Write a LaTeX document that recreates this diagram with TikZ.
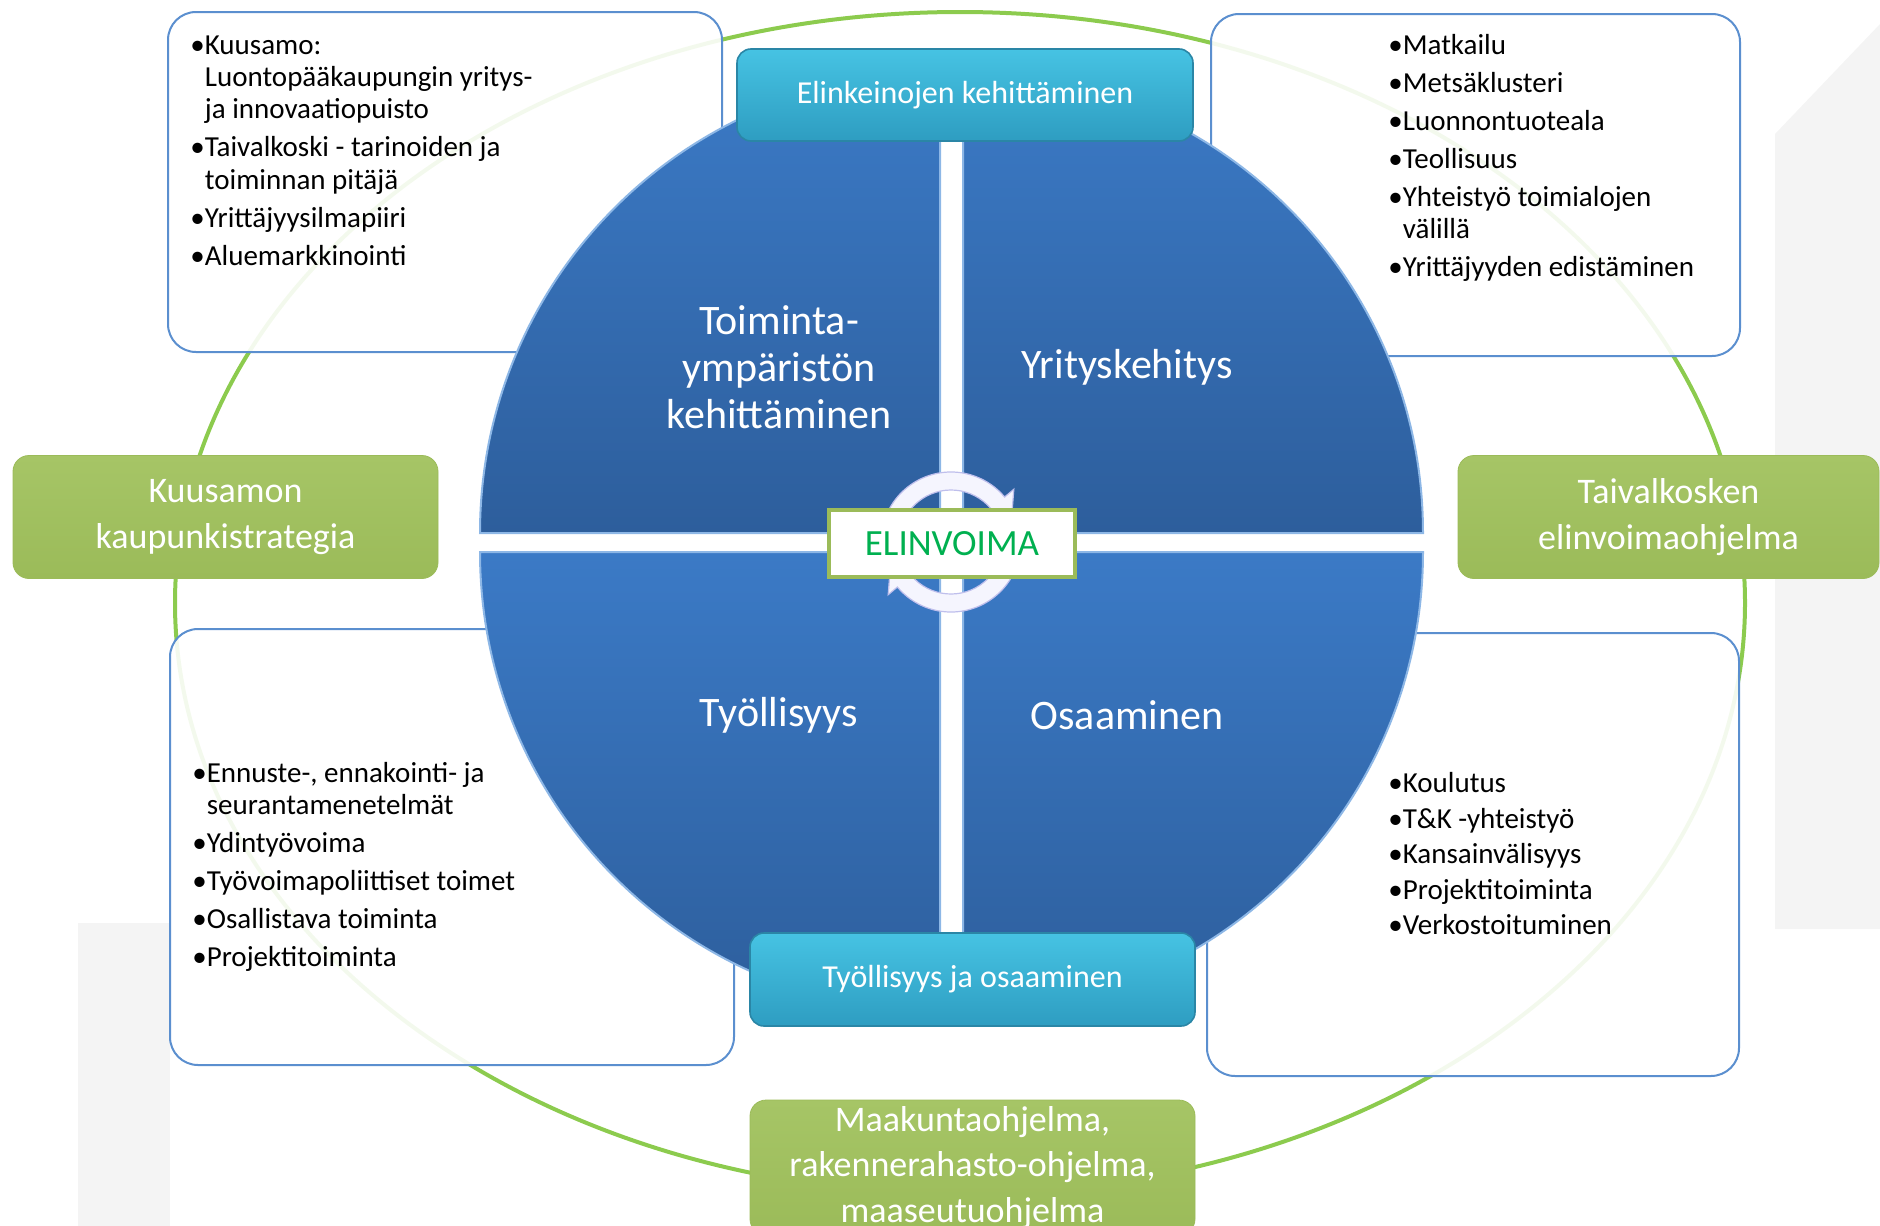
\documentclass[tikz,border=0pt]{standalone}
\usepackage{fontspec}
\setmainfont{Carlito}
\usetikzlibrary{shapes,arrows}
\definecolor{ringgreen}{HTML}{8CCB4E}
\definecolor{boxblue}{HTML}{5B8FCF}
\definecolor{leafgreen}{HTML}{9BBB59}
\definecolor{leafgreenlt}{HTML}{A6C566}
\definecolor{tealtop}{HTML}{46C3E3}
\definecolor{tealbot}{HTML}{2E9DC1}
\definecolor{tealedge}{HTML}{2A86A6}
\definecolor{quadtop}{HTML}{3B7AC6}
\definecolor{quadbot}{HTML}{2D5E9C}
\definecolor{quadedge}{HTML}{8DB7E6}
\definecolor{vitalgreen}{HTML}{00B050}
\definecolor{watermark}{HTML}{F4F4F4}
\tikzset{%
    notebox/.style = {draw=boxblue, line width=1pt, rectangle, rounded corners=14pt, fill=white, fill opacity=0.9, inner sep=0pt},
    planbox/.style = {draw=leafgreen, rectangle, rounded corners=8pt, top color=leafgreenlt, bottom color=leafgreen, text=white, align=center, font=\fontsize{18}{22.6}\selectfont},
    themebox/.style = {draw=tealedge, line width=0.8pt, rectangle, rounded corners=7pt, top color=tealtop, bottom color=tealbot, text=white, font=\fontsize{16}{19}\selectfont},
    listtext/.style = {align=left, inner sep=0pt, text=black, font=\fontsize{14.5}{16.2}\selectfont},
    quadlabel/.style = {align=center, text=white, font=\fontsize{21}{23.5}\selectfont},
    quadrant/.style = {top color=quadtop, bottom color=quadbot, draw=quadedge, line width=1pt},
    ringline/.style = {draw=ringgreen, line width=2pt},
    cyclearrow/.style = {fill=black!8!blue!4!white, draw=black!30!blue!25!white, line width=0.6pt},
}

\begin{document}
\begin{tikzpicture}[x=0.5pt, y=-0.5pt]
        \useasboundingbox (0,0) rectangle (1880,1226);
        % faint logo behind everything
        \fill[watermark] (1775,134) -- (1880,24) -- (1880,929) -- (1775,929) -- cycle;
        \fill[watermark] (78,923) rectangle (170,1226);

        \draw[ringline] (960,603) ellipse [x radius=785, y radius=591];

        \draw
            node at (445,182) [notebox, minimum width=277pt, minimum height=170pt] (kehbox) {}
            node at (1475.5,185) [notebox, minimum width=264.5pt, minimum height=171pt] (yritbox) {}
            node at (452,847) [notebox, minimum width=282pt, minimum height=218pt] (tyobox) {}
            node at (1473,854.5) [notebox, minimum width=266pt, minimum height=221.5pt] (osabox) {};

        % the four quarters of the disc
        \shade[quadrant] (940,533) -- ++(-460,0) arc[start angle=180, end angle=270, radius=460] -- cycle;
        \shade[quadrant] (963,533) -- ++(0,-460) arc[start angle=270, end angle=360, radius=460] -- cycle;
        \shade[quadrant] (963,552) -- ++(460,0) arc[start angle=0, end angle=90, radius=460] -- cycle;
        \shade[quadrant] (940,552) -- ++(0,460) arc[start angle=90, end angle=180, radius=460] -- cycle;

        \node[quadlabel] (toiminta) at (779,367) {Toiminta-\\ympäristön\\kehittäminen};
        \node[quadlabel] (yritys) at (1127,367) {Yrityskehitys};
        \node[quadlabel] (tyollisyys) at (779,715) {Työllisyys};
        \node[quadlabel] (osaaminen) at (1127,715) {Osaaminen};

        \begin{scope}[shift={(951,542)}]
            \filldraw[cyclearrow] (200:70) arc[start angle=200, end angle=320, radius=70]
                -- (320:82) -- (348:61) -- (320:40) -- (320:52)
                arc[start angle=320, end angle=200, radius=52] -- cycle;
            \filldraw[cyclearrow] (20:70) arc[start angle=20, end angle=140, radius=70]
                -- (140:82) -- (168:61) -- (140:40) -- (140:52)
                arc[start angle=140, end angle=20, radius=52] -- cycle;
        \end{scope}

        \draw
            node at (965,95) [themebox, minimum width=228pt, minimum height=46pt] (elinkeino)
            {Elinkeinojen kehittäminen}
            node at (972.5,979.5) [themebox, minimum width=222.5pt, minimum height=46.5pt] (tyoosa)
            {Työllisyys ja osaaminen}
            node at (225.5,517) [planbox, minimum width=212.5pt, minimum height=61.5pt] (kuusamo)
            {Kuusamon\\kaupunkistrategia}
            node at (1668.5,517) [planbox, minimum width=210.5pt, minimum height=61.5pt] (taivalkoski)
            {Taivalkosken\\elinvoimaohjelma}
            node at (972.5,1167.5) [planbox, minimum width=222.5pt, minimum height=64.5pt] (maakunta)
            {Maakuntaohjelma,\\rakennerahasto-ohjelma,\\maaseutuohjelma}
            node at (952,543.5) [draw=leafgreen, line width=1.8pt, fill=white, minimum width=123pt, minimum height=33.5pt,
                text=vitalgreen, font=\fontsize{18.5}{20}\selectfont] (elinvoima)
            {ELINVOIMA};

        \node[listtext, anchor=north west] (kehlist) at (190,35)
            {\textbullet Kuusamo:\\
             \hspace*{.5em}Luontopääkaupungin yritys-\\
             \hspace*{.5em}ja innovaatiopuisto\\[2.8pt]
             \textbullet Taivalkoski - tarinoiden ja\\
             \hspace*{.5em}toiminnan pitäjä\\[2.8pt]
             \textbullet Yrittäjyysilmapiiri\\[2.8pt]
             \textbullet Aluemarkkinointi};
        \node[listtext, anchor=north west] (yritlist) at (1388,34)
            {\textbullet Matkailu\\[2.8pt]
             \textbullet Metsäklusteri\\[2.8pt]
             \textbullet Luonnontuoteala\\[2.8pt]
             \textbullet Teollisuus\\[2.8pt]
             \textbullet Yhteistyö toimialojen\\
             \hspace*{.5em}välillä\\[2.8pt]
             \textbullet Yrittäjyyden edistäminen};
        \node[listtext, anchor=north west] (tyolist) at (192,762)
            {\textbullet Ennuste-, ennakointi- ja\\
             \hspace*{.5em}seurantamenetelmät\\[2.8pt]
             \textbullet Ydintyövoima\\[2.8pt]
             \textbullet Työvoimapoliittiset toimet\\[2.8pt]
             \textbullet Osallistava toiminta\\[2.8pt]
             \textbullet Projektitoiminta};
        \node[listtext, anchor=north west] (osalist) at (1388,772)
            {\textbullet Koulutus\\[1.6pt]
             \textbullet T\&K -yhteistyö\\[1.6pt]
             \textbullet Kansainvälisyys\\[1.6pt]
             \textbullet Projektitoiminta\\[1.6pt]
             \textbullet Verkostoituminen};
    \end{tikzpicture}
\end{document}
